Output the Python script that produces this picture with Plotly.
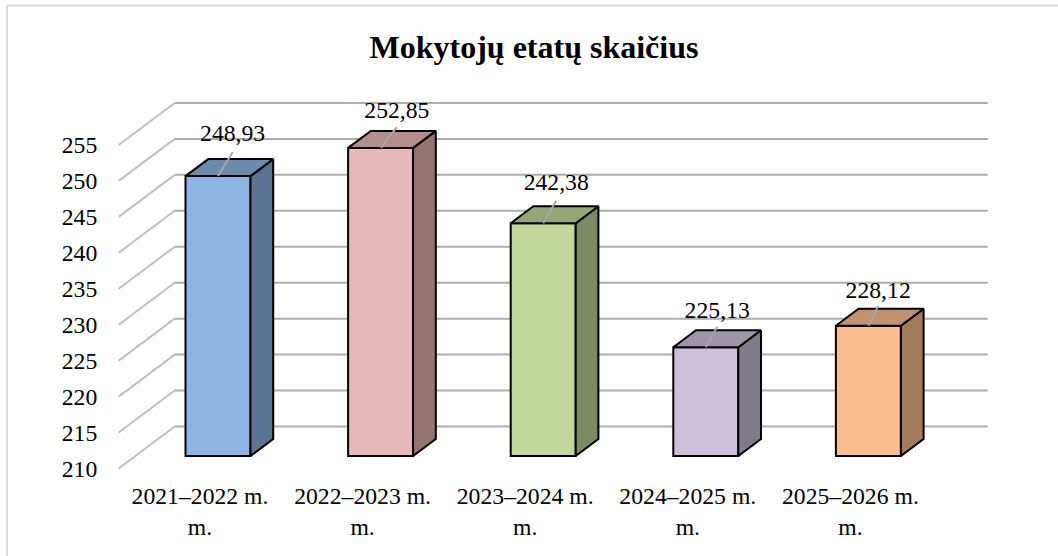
import plotly.graph_objects as go

categories = ["2021–2022 m.<br>m.", "2022–2023 m.<br>m.", "2023–2024 m.<br>m.", "2024–2025 m.<br>m.", "2025–2026 m.<br>m."]
values = [248.93, 252.85, 242.38, 225.13, 228.12]
y_ticks = [210, 215, 220, 225, 230, 235, 240, 245, 250, 255]
title = "Mokytojų etatų skaičius"

front_colors = ["#8DB4E2", "#E6B8B7", "#C4D79B", "#CCC0DA", "#FABF8F"]
side_colors = ["#5A7493", "#937473", "#7D8A63", "#827B8B", "#A17B5B"]
top_colors = ["#6D8AAF", "#B48E8D", "#97A677", "#9E95A8", "#C0936E"]
label_dx = [0.09, 0.10, 0.08, 0.07, 0.06]
label_dy = [5.7, 5.0, 5.4, 4.9, 4.7]

BASE = 210
W, H = 1058, 556
L, R, T, B = 105, 1000, 90, 472
PX_X = 162.6
PX_Y = 7.19
x_range = [(L - 200) / PX_X, (R - 200) / PX_X]
y_range = [BASE - (B - 468.5) / PX_Y, BASE + (468.5 - T) / PX_Y]

WALL_DX, WALL_DY = 56 / PX_X, 42 / PX_Y
BAR_W = 65 / PX_X
BAR_SHIFT_X = 18 / PX_X
BAR_SHIFT_Y = 12.5 / PX_Y
BAR_DX, BAR_DY = 22.7 / PX_X, 17 / PX_Y
n = len(values)
xpos = list(range(n))

shapes = []
for t in y_ticks:
    shapes.append(dict(type="line", layer="below", x0=-0.5, y0=t, x1=-0.5 + WALL_DX, y1=t + WALL_DY,
                       line=dict(color="#BFBFBF", width=2)))
    shapes.append(dict(type="line", layer="below", x0=-0.5 + WALL_DX, y0=t + WALL_DY, x1=n - 0.5 + WALL_DX, y1=t + WALL_DY,
                       line=dict(color="#ADADAD", width=2)))
# outer frame: only its top and left edges fall inside the picture
px = lambda p: (p - L) / (R - L)
py = lambda p: (B - p) / (B - T)
shapes.append(dict(type="line", xref="paper", yref="paper", layer="below", x0=px(7), x1=px(1058), y0=py(5.5), y1=py(5.5),
                   line=dict(color="#D9D9D9", width=2)))
shapes.append(dict(type="line", xref="paper", yref="paper", layer="below", x0=px(7), x1=px(7), y0=py(5.5), y1=py(556),
                   line=dict(color="#D9D9D9", width=2)))

fig = go.Figure()
fig.add_trace(go.Bar(
    x=[i + BAR_SHIFT_X for i in xpos],
    y=[v - BASE for v in values],
    base=BASE + BAR_SHIFT_Y,
    width=BAR_W,
    marker=dict(color=front_colors, line=dict(color="black", width=2)),
    showlegend=False, hoverinfo="skip",
))
for i, v in enumerate(values):
    x0 = i + BAR_SHIFT_X - BAR_W / 2
    x1 = i + BAR_SHIFT_X + BAR_W / 2
    y0 = BASE + BAR_SHIFT_Y
    y1 = v + BAR_SHIFT_Y
    fig.add_trace(go.Scatter(
        x=[x1, x1 + BAR_DX, x1 + BAR_DX, x1, x1], y=[y0, y0 + BAR_DY, y1 + BAR_DY, y1, y0],
        mode="lines", fill="toself", fillcolor=side_colors[i], line=dict(color="black", width=2),
        showlegend=False, hoverinfo="skip"))
    fig.add_trace(go.Scatter(
        x=[x0, x1, x1 + BAR_DX, x0 + BAR_DX, x0], y=[y1, y1, y1 + BAR_DY, y1 + BAR_DY, y1],
        mode="lines", fill="toself", fillcolor=top_colors[i], line=dict(color="black", width=2),
        showlegend=False, hoverinfo="skip"))
    fig.add_trace(go.Scatter(
        x=[i + BAR_SHIFT_X, i + BAR_SHIFT_X + label_dx[i]], y=[y1, y1 + label_dy[i] * 0.58],
        mode="lines", line=dict(color="#A6A6A6", width=2), showlegend=False, hoverinfo="skip"))

fig.add_trace(go.Scatter(
    x=[i + BAR_SHIFT_X + label_dx[i] for i in xpos],
    y=[v + BAR_SHIFT_Y + label_dy[i] for i, v in enumerate(values)],
    text=[f"{v:.2f}".replace(".", ",") for v in values],
    mode="text", textposition="middle center",
    textfont=dict(family="Liberation Serif", size=23.7, color="black"),
    showlegend=False, hoverinfo="skip"))

fig.update_layout(
    width=W, height=H,
    margin=dict(l=L, r=W - R, t=T, b=H - B, pad=0),
    paper_bgcolor="white", plot_bgcolor="rgba(0,0,0,0)",
    font=dict(family="Liberation Serif", size=23.7, color="black"),
    title=dict(text=f"<b>{title}</b>", x=534 / W, xanchor="center", y=1 - 47 / H, yanchor="middle",
               font=dict(family="Liberation Serif", size=32, color="black")),
    xaxis=dict(range=x_range, tickmode="array", tickvals=xpos, ticktext=categories,
               showgrid=False, zeroline=False, showline=False, ticks="outside", ticklen=3,
               tickcolor="rgba(0,0,0,0)", tickangle=0),
    yaxis=dict(range=y_range, tickmode="array", tickvals=y_ticks, ticktext=[str(t) for t in y_ticks],
               showgrid=False, zeroline=False, showline=False, ticks="outside", ticklen=2,
               tickcolor="rgba(0,0,0,0)"),
    shapes=shapes,
    showlegend=False, barmode="overlay",
)
fig.write_html("out.html", config={"displayModeBar": False},
               post_script="document.body.style.margin='0';document.body.style.overflow='hidden';")
